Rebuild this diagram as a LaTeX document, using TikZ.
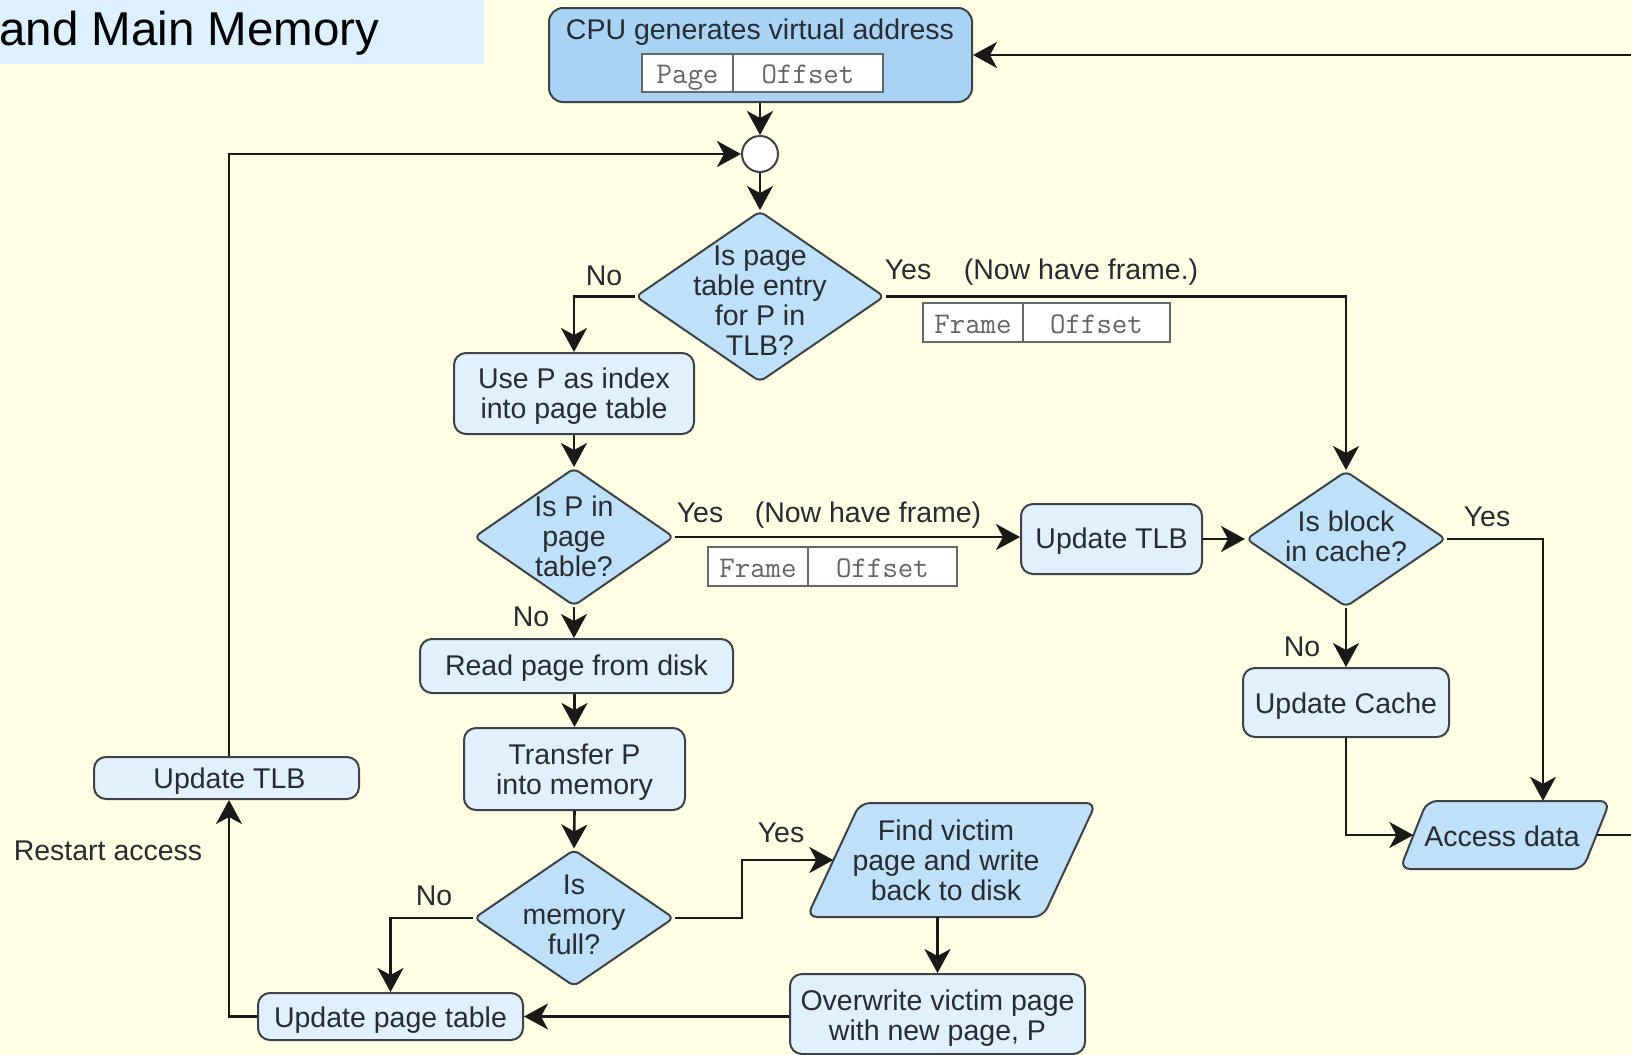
\documentclass[tikz,border=0pt]{standalone}
\usepackage{fontspec}
\setmainfont{Liberation Sans}
\usetikzlibrary{shapes.geometric,arrows.meta,calc}

\definecolor{paper}{RGB}{255,255,228}
\definecolor{titlefill}{RGB}{221,240,255}
\definecolor{cpufill}{RGB}{168,211,244}
\definecolor{decfill}{RGB}{190,224,248}
\definecolor{procfill}{RGB}{224,240,252}
\definecolor{edge}{RGB}{62,66,72}
\definecolor{ink}{RGB}{40,44,50}
\definecolor{wire}{RGB}{25,25,25}
\definecolor{cellink}{RGB}{100,100,100}

\newcommand{\flowfont}{\fontsize{28.5}{30}\selectfont}

\begin{document}
\begin{tikzpicture}[x=1pt,y=-1pt,
  proc/.style={draw=edge, line width=2pt, rounded corners=12pt, fill=procfill,
    inner sep=0pt},
  dec/.style={diamond, draw=edge, line width=2pt, rounded corners=6pt,
    fill=decfill, inner sep=0pt},
  txt/.style={text=ink, font=\flowfont, align=center, inner sep=0pt},
  slanted/.style={draw=edge, line width=2pt, rounded corners=10pt, fill=decfill},
  cell/.style={draw=edge!80, line width=1.5pt, fill=white, text=cellink,
    font=\ttfamily\fontsize{30}{32}\selectfont, inner sep=0pt,
    text height=22pt, text depth=1pt},
  lbl/.style={text=ink, font=\flowfont, inner sep=0pt},
  wireline/.style={draw=wire, line width=2.6pt},
  flow/.style={wireline, -{Stealth[length=24pt,width=26pt,inset=7pt]}}
]
% canvas
\useasboundingbox (0,0) rectangle (1631,1055);
\fill[paper] (0,0) rectangle (1631,1055);

% heading strip
\node[fill=titlefill, minimum width=484pt, minimum height=64pt, inner sep=0pt,
  anchor=north west] (titlebox) at (0,0) {};
\node[anchor=base west, inner sep=0pt, font=\fontsize{47.5}{50}\selectfont] (title)
  at (-1,45) {and Main Memory};

% virtual address generation
\node[draw=edge, line width=2pt, rounded corners=14pt, fill=cpufill,
  minimum width=423pt, minimum height=94pt, inner sep=0pt] (cpu) at (760.5,55) {};
\node[lbl] (cputext) at (760,32) {CPU generates virtual address};
\node[cell, minimum width=91pt, minimum height=38pt] (vpage) at (687.5,73) {Page};
\node[cell, minimum width=150pt, minimum height=38pt] (voff) at (808,73) {Offset};

% junction
\node[circle, draw=edge, line width=2pt, fill=white, minimum size=36pt,
  inner sep=0pt] (hub) at (760,154) {};

% TLB lookup
\node[dec, minimum width=249pt, minimum height=171pt] (d1) at (760,296.5) {};
\node[txt] at (760,301) {Is page\\table entry\\for P in\\TLB?};
\node[lbl] (no1) at (604,276) {No};
\node[lbl] (yes1) at (908,270) {Yes};
\node[lbl] (have1) at (1081,272) {(Now have frame.)};
\node[cell, minimum width=100pt, minimum height=39pt] (f1a) at (973,322.5) {Frame};
\node[cell, minimum width=147pt, minimum height=39pt] (f1b) at (1096.5,322.5) {Offset};

% page table path
\node[proc, minimum width=240pt, minimum height=81pt] (usep) at (574,393.5) {};
\node[txt] at ($(usep)+(0,3)$) {Use P as index\\into page table};
\node[dec, minimum width=200pt, minimum height=138pt] (d2) at (574,537) {};
\node[txt] at (574,536) {Is P in\\page\\table?};
\node[lbl] (yes2) at (700,513) {Yes};
\node[lbl] (have2) at (868,515) {(Now have frame)};
\node[cell, minimum width=100pt, minimum height=39pt] (f2a) at (758,566.5) {Frame};
\node[cell, minimum width=149pt, minimum height=39pt] (f2b) at (882.5,566.5) {Offset};
\node[lbl] (no2) at (531,617) {No};

\node[proc, minimum width=181pt, minimum height=70pt] (utlbR) at (1111.5,539) {};
\node[txt] at ($(utlbR)+(0,2)$) {Update TLB};

% cache lookup
\node[dec, minimum width=200pt, minimum height=136pt] (d3) at (1346,539) {};
\node[txt] at (1346,536) {Is block\\in cache?};
\node[lbl] (yes3) at (1487,517) {Yes};
\node[lbl] (no3) at (1302,647) {No};
\node[proc, minimum width=206pt, minimum height=69pt] (ucache) at (1346,702.5) {};
\node[txt] at ($(ucache)+(0,4)$) {Update Cache};

% data access
\node[minimum width=183pt, minimum height=68pt, inner sep=0pt] (acc) at (1505,835) {};
\draw[slanted] (1427,801) -- (1610,801) -- (1583,869) -- (1400,869) -- cycle;
\node[txt] at (1502,836) {Access data};

% page fault handling
\node[proc, minimum width=313pt, minimum height=54pt] (read) at (576.5,666) {};
\node[txt] at ($(read)+(0,2)$) {Read page from disk};
\node[proc, minimum width=221pt, minimum height=82pt] (transfer) at (574.5,769) {};
\node[txt] at ($(transfer)+(0,3)$) {Transfer P\\into memory};
\node[dec, minimum width=200pt, minimum height=137pt] (d4) at (574,918) {};
\node[txt] at (574,915) {Is\\memory\\full?};
\node[lbl] (no4) at (434,896) {No};
\node[lbl] (yes4) at (781,833) {Yes};

\node[minimum width=235pt, minimum height=114pt, inner sep=0pt] (find) at (951,860) {};
\draw[slanted] (860,803) -- (1096,803) -- (1043,917) -- (807,917) -- cycle;
\node[txt] at (946,860) {Find victim\\page and write\\back to disk};

\node[proc, minimum width=295pt, minimum height=80pt] (over) at (937.5,1014) {};
\node[txt] at ($(over)+(0,4)$) {Overwrite victim page\\with new page, P};
\node[proc, minimum width=265pt, minimum height=47pt] (upt) at (390.5,1016.5) {};
\node[txt] at ($(upt)+(0,4)$) {Update page table};
\node[proc, minimum width=265pt, minimum height=42pt] (utlbL) at (226.5,778) {};
\node[txt] at ($(utlbL)+(3,3)$) {Update TLB};
\node[lbl] (restart) at (108,851) {Restart access};

% loop ends at the page edge
\coordinate (rimA) at (1631,835);
\coordinate (rimB) at (1631,55);

% connectors
\draw[flow] (cpu.south -| hub) -- (hub.north);
\draw[flow] (hub.south) -- (d1.north);
\draw[flow] (d1.west) -| (usep.north);
\draw[flow] (d1.east) -| (d3.north);
\draw[flow] (usep.south) -- (d2.north);
\draw[flow] (d2.east) -- (utlbR.west |- d2.east);
\draw[flow] (utlbR.east |- d3.west) -- (d3.west);
\draw[flow] (d3.east) -| ([xshift=38pt]acc.north);
\draw[flow] (d3.south) -- (ucache.north);
\draw[flow] (ucache.south) |- (acc.west);
\draw[wireline] (acc.east) -- (rimA);
\draw[flow] (rimB) -- (cpu.east);
\draw[flow] (d2.south) -- (d2.south |- read.north);
\draw[flow] (transfer.north |- read.south) -- (transfer.north);
\draw[flow] (transfer.south) -- (d4.north);
\draw[flow] (d4.west) -| (upt.north);
\draw[flow] (d4.east) -- ++(67,0) |- (find.west);
\draw[flow] (over.north |- find.south) -- (over.north);
\draw[flow] (over.west |- upt.east) -- (upt.east);
\draw[flow] (upt.west) -| ([xshift=2.5pt]utlbL.south);
\draw[flow] ([xshift=2.5pt]utlbL.north) |- (hub.west);
\end{tikzpicture}
\end{document}
